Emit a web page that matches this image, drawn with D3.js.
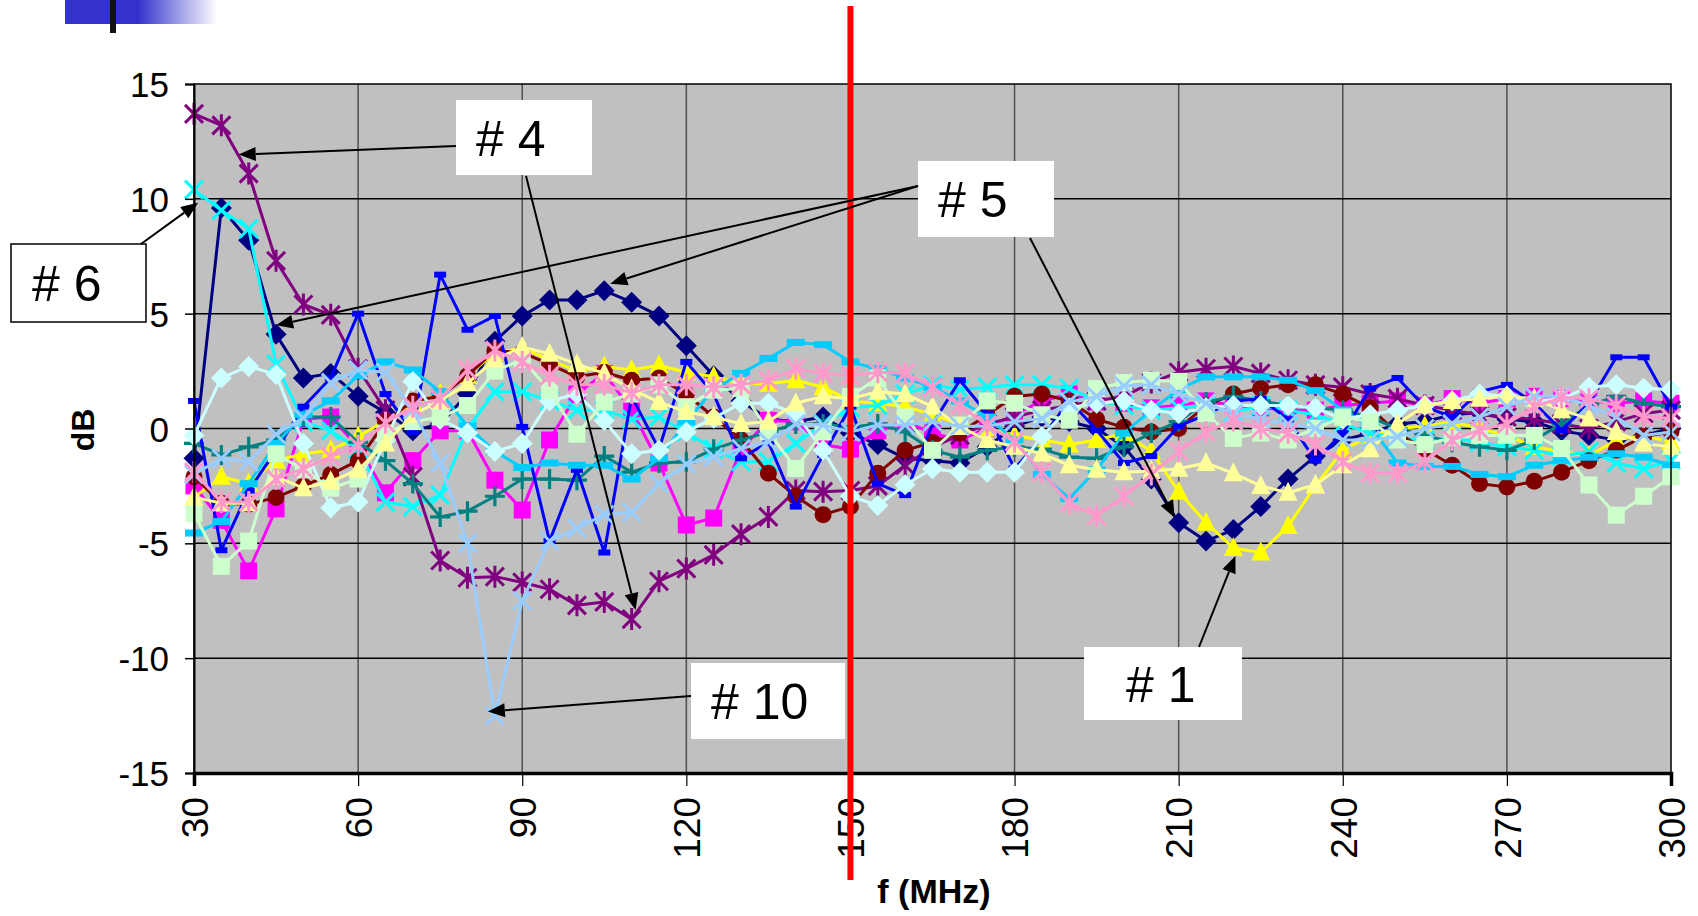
<!DOCTYPE html>
<html>
<head>
<meta charset="utf-8">
<script src="https://cdn.jsdelivr.net/npm/d3@7"></script>
<style>
  html, body { margin: 0; padding: 0; background: #ffffff; }
  svg { display: block; }
  text { font-family: "Liberation Sans", Arial, sans-serif; fill: #000; }
</style>
</head>
<body>
<svg id="chart" width="1698" height="916"></svg>
<script>
// Frequency points (MHz)
const freqs = [30, 35, 40, 45, 50, 55, 60, 65, 70, 75,
               80, 85, 90, 95, 100, 105, 110, 115, 120, 125,
               130, 135, 140, 145, 150, 155, 160, 165, 170, 175,
               180, 185, 190, 195, 200, 205, 210, 215, 220, 225,
               230, 235, 240, 245, 250, 255, 260, 265, 270, 275,
               280, 285, 290, 295, 300];

// Measured response of each unit (dB), one value per frequency point
const navyDb = [-1.3, 9.6, 8.2, 4.1, 2.2, 2.4, 1.4, 0.7, -0.1, 0.2,
                1.5, 3.8, 4.9, 5.6, 5.6, 6.0, 5.5, 4.9, 3.6, 2.3,
                1.2, 0.4, 0.3, 0.5, -0.2, -0.7, -1.3, -1.4, -1.5, -0.8,
                0.1, 0.5, 0.3, 0.0, -0.8, -2.2, -4.1, -4.9, -4.4, -3.4,
                -2.2, -1.2, -0.5, -0.2, 0.2, 0.3, 0.6, 0.7, 0.4, 0.3,
                -0.1, -0.3, -0.5, -0.3, 0.0];
const magentaDb = [-2.5, -4.0, -6.2, -3.5, 0.4, 0.5, -0.8, -2.8, -1.4, -0.1,
                   -0.1, -2.25, -3.55, -0.5, 1.5, 2.4, 0.8, -1.5, -4.2, -3.9,
                   -0.9, 0.35, 0.3, -0.7, -0.9, -0.1, 0.3, -0.2, -0.5, 0.0,
                   0.6, 1.2, 1.5, 1.15, 1.1, 0.9, 1.0, 1.2, 1.0, 0.9,
                   0.8, 0.8, 1.0, 1.1, 1.2, 1.0, 1.3, 1.1, 1.3, 1.4,
                   1.3, 1.2, 1.1, 1.2, 1.1];
const yellowDb = [-3.0, -2.1, -2.4, -1.4, -1.1, -0.95, -0.35, 0.35, 1.1, 1.5,
                  2.3, 3.3, 3.5, 3.0, 2.5, 2.7, 2.55, 2.75, 2.45, 2.25,
                  1.95, 1.95, 2.1, 1.8, 1.2, 1.1, 0.95, 0.6, 0.2, 0.0,
                  -0.3, -0.5, -0.7, -0.5, -0.2, -1.0, -2.75, -4.1, -5.2, -5.4,
                  -4.25, -2.5, -0.95, -0.3, 0.0, 0.1, 0.3, 0.0, -0.3, -0.8,
                  -1.0, -1.2, -0.5, -0.3, -0.6];
const cyanDb = [10.4, 9.5, 8.7, 2.8, 0.3, -0.1, -0.9, -3.2, -3.4, -2.9,
                0.0, 1.6, 1.6, 1.2, 0.8, 0.8, 0.4, 0.5, -0.15, -0.9,
                -1.45, -1.45, -0.65, 0.2, 0.9, 1.0, 1.5, 1.9, 1.7, 1.8,
                1.9, 1.9, 1.75, 1.2, 1.0, 0.8, 0.9, 1.0, 0.7, 1.0,
                0.8, 0.6, 0.2, -0.2, -0.4, -0.5, -0.4, -0.6, -0.8, -0.95,
                -1.2, -1.0, -1.5, -1.75, -1.4];
const purpleDb = [13.7, 13.2, 11.1, 7.3, 5.4, 4.95, 2.6, 0.8, -2.1, -5.75,
                  -6.5, -6.45, -6.7, -7.0, -7.7, -7.55, -8.3, -6.65, -6.1, -5.5,
                  -4.6, -3.85, -2.7, -2.75, -2.7, -2.5, -1.6, -0.8, -0.3, 0.2,
                  0.5, 0.8, 1.0, 1.2, 1.4, 2.0, 2.45, 2.6, 2.7, 2.4,
                  2.1, 1.9, 1.8, 1.5, 1.3, 1.0, 0.8, 0.6, 0.5, 0.4,
                  0.2, 0.0, 0.3, 0.65, 0.8];
const darkRedDb = [-2.1, -3.25, -3.3, -3.0, -2.5, -2.0, -1.4, 0.3, 1.2, 1.4,
                   2.3, 3.4, 3.3, 2.8, 2.25, 2.45, 2.1, 2.2, 1.5, 0.5,
                   -0.5, -1.95, -2.95, -3.75, -3.4, -1.95, -0.95, -0.6, -0.2, 0.6,
                   1.4, 1.5, 1.2, 0.4, 0.05, -0.15, 0.0, 1.0, 1.5, 1.75,
                   1.9, 1.9, 1.5, 0.9, -0.2, -0.9, -1.6, -2.4, -2.55, -2.3,
                   -1.9, -1.4, -0.95, -0.35, -0.15];
const tealDb = [-0.65, -1.15, -0.8, -0.5, 0.5, 0.5, -0.6, -1.4, -2.4, -3.85,
                -3.6, -2.95, -2.2, -2.2, -2.25, -1.2, -1.9, -1.5, -1.45, -0.9,
                -0.5, -0.15, 0.2, 0.2, 0.05, 0.2, -0.15, -0.95, -1.25, -0.95,
                -0.8, -0.9, -1.25, -1.3, -0.8, -0.2, 0.3, 1.15, 1.4, 1.2,
                1.0, 0.9, 0.8, 0.5, 0.0, -0.3, -0.6, -0.8, -0.95, -0.5,
                0.2, 1.0, 1.4, 1.1, 0.95];
const blueDb = [1.2, -5.3, -2.7, -0.95, 0.95, 2.2, 5.0, 1.5, -0.15, 6.7,
                4.3, 4.9, 0.07, -4.9, -1.8, -5.4, 1.4, -0.9, 2.9, 1.5,
                -1.3, -0.6, -3.4, -1.15, 0.95, -2.4, -2.9, 0.2, 2.1, 0.65,
                -1.74, -0.43, 1.23, -0.07, -1.5, -1.2, 0.1, 0.6, 1.2, 1.3,
                0.4, -1.4, -0.2, 1.74, 2.2, 0.95, 0.5, 1.6, 1.9, 1.1,
                -0.07, 1.1, 3.1, 3.1, 0.95];
const skyDb = [-4.55, -4.05, -2.4, -0.65, 0.6, 1.2, 2.3, 2.9, 2.55, 1.6,
               0.1, -1.0, -1.7, -1.5, -1.6, -1.6, -2.2, -1.3, 0.3, 1.7,
               2.4, 3.05, 3.75, 3.65, 2.9, 2.6, 2.2, 1.8, 1.2, 0.5,
               -0.5, -2.0, -3.05, -1.8, -0.2, 0.8, 1.7, 2.25, 2.25, 2.25,
               2.1, 1.65, 0.8, 0.1, -1.5, -1.65, -1.65, -2.0, -2.1, -1.6,
               -1.4, -1.25, -1.1, -1.25, -1.6];
const turquoiseDb = [-0.3, 2.2, 2.7, 2.35, -0.65, -3.45, -3.2, -0.5, 2.05, 0.4,
                     -0.2, -1.0, -0.65, 1.2, 1.5, 0.35, -1.1, -0.95, -0.15, 0.45,
                     1.1, 1.1, 0.65, -0.95, -2.95, -3.35, -2.45, -1.75, -1.9, -1.9,
                     -1.9, -0.35, 0.9, 1.1, 1.2, 0.8, 0.65, 0.9, 1.0, 1.0,
                     1.0, 0.9, 0.4, 0.6, 0.8, 1.0, 1.2, 1.5, 1.4, 1.2,
                     1.3, 1.8, 1.9, 1.75, 1.7];
const paleGreenDb = [-3.7, -6.0, -4.9, -1.1, -1.8, -2.6, -2.2, -0.2, 0.3, 0.5,
                     1.0, 2.5, 3.0, 1.65, -0.25, 1.15, 1.5, 1.9, 0.95, 1.67,
                     1.74, -0.15, -1.74, -0.15, 1.4, 2.2, 0.5, -0.95, 0.15, 1.2,
                     1.1, 0.6, 0.36, 1.74, 2.0, 2.1, 2.05, 0.65, -0.43, -0.2,
                     -0.5, 0.0, 0.5, 0.3, -0.5, -0.7, -0.4, -0.3, -0.3, -0.3,
                     -0.87, -2.46, -3.77, -2.95, -2.1];
const paleYellowDb = [-3.0, -3.25, -3.25, -2.1, -2.6, -2.3, -1.8, -0.65, 0.6, 1.2,
                      1.97, 3.0, 3.55, 3.25, 2.8, 2.4, 1.7, 1.15, 0.72, 0.5,
                      0.2, 0.3, 1.1, 1.4, 1.3, 1.6, 1.5, 0.95, 0.07, -0.5,
                      -0.8, -1.1, -1.6, -1.8, -1.9, -1.85, -1.75, -1.5, -1.95, -2.5,
                      -2.8, -2.45, -1.6, -0.9, 0.2, 1.0, 1.2, 1.3, 1.4, 1.3,
                      0.8, 0.43, -0.15, -0.65, -0.8];
const paleBlueDb = [-2.0, -1.3, -1.45, -0.25, 0.45, 2.0, 2.55, 2.45, 0.8, -1.5,
                    -5.0, -12.5, -7.5, -4.9, -4.35, -3.75, -3.65, -2.4, -1.55, -1.23,
                    -0.87, -0.58, 0.2, 0.15, -0.15, 0.15, 0.15, 0.3, 0.1, 0.1,
                    0.3, 0.43, 1.16, 1.4, 1.85, 1.9, 1.5, 1.1, 0.65, 0.4,
                    0.2, 0.0, -0.5, -0.5, -0.36, 0.0, 0.2, 0.5, 0.95, 1.4,
                    1.4, 1.0, 0.5, -0.3, -0.15];
const roseDb = [-1.9, -3.2, -3.2, -2.2, -1.75, -1.23, -0.75, 0.25, 0.95, 1.3,
                2.55, 3.4, 2.9, 2.3, 1.9, 1.9, 1.55, 1.9, 1.9, 1.8,
                1.9, 2.1, 2.6, 2.4, 2.3, 2.45, 2.4, 1.8, 1.0, 0.15,
                -0.58, -1.9, -3.25, -3.8, -2.95, -2.0, -1.0, -0.15, 0.35, 0.0,
                -0.2, -0.7, -1.45, -1.95, -1.95, -1.45, -0.5, -0.07, 0.2, 0.95,
                1.35, 1.3, 1.0, 0.5, 0.45];

// Axis ticks
const xTicks = [30, 60, 90, 120, 150, 180, 210, 240, 270, 300];
const xTickLabels = ["30", "60", "90", "120", "150", "180", "210", "240", "270", "300"];
const yTicks = [15, 10, 5, 0, -5, -10, -15];
const yTickLabels = ["15", "10", "5", "0", "-5", "-10", "-15"];

// Boundary marker frequency and callouts
const markerFreq = 150;
const callouts = [
  { label: "# 4", box: [456, 100, 136, 75], textX: 476, border: false,
    arrows: [{ from: [456, 146], target: [purpleDb, 40], off: [-10, -19] },
             { from: [526, 176], target: [purpleDb, 110], off: [4, -9] }] },
  { label: "# 5", box: [918, 161, 136, 76], textX: 938, border: false,
    arrows: [{ from: [918, 186], target: [navyDb, 45], off: [0, -9] },
             { from: [918, 186], target: [navyDb, 105], off: [6, -7] },
             { from: [1030, 238], target: [navyDb, 210], off: [-4, -5] }] },
  { label: "# 6", box: [11, 244, 135, 78], textX: 32, border: true,
    arrows: [{ from: [141, 244], target: [cyanDb, 30], off: [4, 13] }] },
  { label: "# 10", box: [691, 663, 154, 76], textX: 711, border: false,
    arrows: [{ from: [691, 696], target: [paleBlueDb, 85], off: [-7, -4] }] },
  { label: "# 1", box: [1084, 647, 158, 73], textX: 1126, border: false,
    arrows: [{ from: [1199, 647], target: [yellowDb, 220], off: [2, 8] }] }
];

const series = [
  { values: navyDb,       color: "#000080", marker: "diamond" },
  { values: magentaDb,    color: "#FF00FF", marker: "square" },
  { values: yellowDb,     color: "#FFFF00", marker: "triangle" },
  { values: cyanDb,       color: "#00FFFF", marker: "x" },
  { values: purpleDb,     color: "#800080", marker: "star" },
  { values: darkRedDb,    color: "#800000", marker: "circle" },
  { values: tealDb,       color: "#008080", marker: "plus" },
  { values: blueDb,       color: "#0000FF", marker: "dash" },
  { values: skyDb,        color: "#00CCFF", marker: "longdash" },
  { values: turquoiseDb,  color: "#CCFFFF", marker: "diamond" },
  { values: paleGreenDb,  color: "#CCFFCC", marker: "square" },
  { values: paleYellowDb, color: "#FFFF99", marker: "triangle" },
  { values: paleBlueDb,   color: "#99CCFF", marker: "x" },
  { values: roseDb,       color: "#FF99CC", marker: "star" }
];

const svg = d3.select("#chart");
const plot = { left: 194, right: 1671, top: 84, bottom: 773 };

const x = d3.scaleLinear().domain([30, 300]).range([plot.left, plot.right]);
const y = d3.scaleLinear().domain([-15, 15]).range([plot.bottom, plot.top]);

// Header strip in the top-left corner
const defs = svg.append("defs");
const grad = defs.append("linearGradient").attr("id", "headFade")
  .attr("x1", "0%").attr("x2", "100%").attr("y1", "0%").attr("y2", "0%");
grad.append("stop").attr("offset", "0%").attr("stop-color", "#3333CC");
grad.append("stop").attr("offset", "48%").attr("stop-color", "#3333CC");
grad.append("stop").attr("offset", "100%").attr("stop-color", "#ffffff");
svg.append("rect").attr("x", 65).attr("y", 0).attr("width", 152).attr("height", 24)
  .attr("fill", "url(#headFade)");
svg.append("rect").attr("x", 110).attr("y", 0).attr("width", 6).attr("height", 33)
  .attr("fill", "#111");

// Plot background
svg.append("rect")
  .attr("x", plot.left).attr("y", plot.top)
  .attr("width", plot.right - plot.left).attr("height", plot.bottom - plot.top)
  .attr("fill", "#C0C0C0");

// Gridlines
const grid = svg.append("g");
grid.selectAll("line.vg").data(xTicks.slice(1, -1)).join("line")
  .attr("x1", d => x(d)).attr("x2", d => x(d))
  .attr("y1", plot.top).attr("y2", plot.bottom)
  .attr("stroke", "#505050").attr("stroke-width", 1.5);
grid.selectAll("line.hg").data(yTicks.slice(1, -1)).join("line")
  .attr("x1", plot.left).attr("x2", plot.right)
  .attr("y1", d => y(d)).attr("y2", d => y(d))
  .attr("stroke", "#000").attr("stroke-width", 1.5);

// Marker shapes
function drawMarker(g, type, color) {
  switch (type) {
    case "diamond":
      g.append("path").attr("d", "M0,-10.5L10.5,0L0,10.5L-10.5,0Z").attr("fill", color); break;
    case "square":
      g.append("rect").attr("x", -8.5).attr("y", -8.5).attr("width", 17).attr("height", 17).attr("fill", color); break;
    case "triangle":
      g.append("path").attr("d", "M0,-11L9.5,8L-9.5,8Z").attr("fill", color); break;
    case "x":
      g.append("path").attr("d", "M-9,-9L9,9M-9,9L9,-9").attr("stroke", color).attr("stroke-width", 3).attr("fill", "none"); break;
    case "star":
      g.append("path").attr("d", "M-9,-9L9,9M-9,9L9,-9M0,-11L0,11").attr("stroke", color).attr("stroke-width", 3).attr("fill", "none"); break;
    case "circle":
      g.append("circle").attr("r", 8.5).attr("fill", color); break;
    case "plus":
      g.append("path").attr("d", "M-10,0L10,0M0,-10L0,10").attr("stroke", color).attr("stroke-width", 3.2).attr("fill", "none"); break;
    case "dash":
      g.append("rect").attr("x", -6).attr("y", -3).attr("width", 12).attr("height", 6).attr("fill", color); break;
    case "longdash":
      g.append("rect").attr("x", -9).attr("y", -3.5).attr("width", 18).attr("height", 7).attr("fill", color); break;
  }
}

// Series lines with markers
const line = d3.line().x((d, i) => x(freqs[i])).y(d => y(d));
const seriesLayer = svg.append("g");
series.forEach(s => {
  const g = seriesLayer.append("g");
  g.append("path").attr("d", line(s.values))
    .attr("fill", "none").attr("stroke", s.color).attr("stroke-width", 3)
    .attr("stroke-linejoin", "round");
  g.selectAll("g.pt").data(s.values).join("g")
    .attr("transform", (d, i) => `translate(${x(freqs[i])},${y(d)})`)
    .each(function () { drawMarker(d3.select(this), s.marker, s.color); });
});

// Plot frame
svg.append("rect")
  .attr("x", plot.left).attr("y", plot.top)
  .attr("width", plot.right - plot.left).attr("height", plot.bottom - plot.top)
  .attr("fill", "none").attr("stroke", "#000").attr("stroke-width", 1.5);

// Y axis
const yAxis = svg.append("g").attr("transform", `translate(${plot.left},0)`)
  .call(d3.axisLeft(y).tickValues(yTicks).tickSize(9).tickFormat((d, i) => yTickLabels[i]));
yAxis.select(".domain").attr("stroke", "#000").attr("stroke-width", 2);
yAxis.selectAll(".tick line").attr("stroke", "#000").attr("stroke-width", 1.5);
yAxis.selectAll(".tick text")
  .attr("font-size", 35).attr("x", -25).attr("dy", "0.36em")
  .attr("font-family", "'Liberation Sans', Arial, sans-serif").attr("fill", "#000");

// X axis
const xAxis = svg.append("g").attr("transform", `translate(0,${plot.bottom})`)
  .call(d3.axisBottom(x).tickValues(xTicks).tickSize(13).tickFormat((d, i) => xTickLabels[i]));
xAxis.select(".domain").attr("stroke", "#000").attr("stroke-width", 3.5);
xAxis.selectAll(".tick line").attr("stroke", "#000").attr("stroke-width", 1.2);
xAxis.selectAll(".tick text")
  .attr("font-size", 37).attr("text-anchor", "end")
  .attr("transform", "rotate(-90)")
  .attr("x", -24).attr("y", 0).attr("dy", "0.36em")
  .attr("font-family", "'Liberation Sans', Arial, sans-serif").attr("fill", "#000");

// Axis titles
svg.append("text").attr("transform", "translate(94,430) rotate(-90)")
  .attr("text-anchor", "middle").attr("font-size", 32).attr("font-weight", "bold")
  .text("dB");
svg.append("text").attr("x", 934).attr("y", 903)
  .attr("text-anchor", "middle").attr("font-size", 34).attr("font-weight", "bold")
  .text("f (MHz)");

// Boundary marker at 150 MHz
svg.append("line")
  .attr("x1", x(markerFreq)).attr("x2", x(markerFreq))
  .attr("y1", 6).attr("y2", 880)
  .attr("stroke", "#FF0000").attr("stroke-width", 6);

// Callout boxes and arrows
const notes = svg.append("g");
callouts.forEach(c => {
  notes.append("rect")
    .attr("x", c.box[0]).attr("y", c.box[1]).attr("width", c.box[2]).attr("height", c.box[3])
    .attr("fill", "#fff")
    .attr("stroke", c.border ? "#000" : "none").attr("stroke-width", 1.5);
  notes.append("text")
    .attr("x", c.textX).attr("y", c.box[1] + c.box[3] / 2).attr("dy", "0.36em")
    .attr("font-size", 50).text(c.label);
});

function arrow(from, to) {
  const dx = to[0] - from[0], dy = to[1] - from[1];
  const len = Math.hypot(dx, dy), ux = dx / len, uy = dy / len;
  const headL = 17, headW = 7;
  const bx = to[0] - ux * headL, by = to[1] - uy * headL;
  notes.append("line").attr("x1", from[0]).attr("y1", from[1]).attr("x2", bx).attr("y2", by)
    .attr("stroke", "#000").attr("stroke-width", 2);
  notes.append("path")
    .attr("d", `M${to[0]},${to[1]}L${bx - uy * headW},${by + ux * headW}L${bx + uy * headW},${by - ux * headW}Z`)
    .attr("fill", "#000");
}
callouts.forEach(c => c.arrows.forEach(a => {
  const idx = freqs.indexOf(a.target[1]);
  const tip = [x(freqs[idx]) + a.off[0], y(a.target[0][idx]) + a.off[1]];
  arrow(a.from, tip);
}));
</script>
</body>
</html>
